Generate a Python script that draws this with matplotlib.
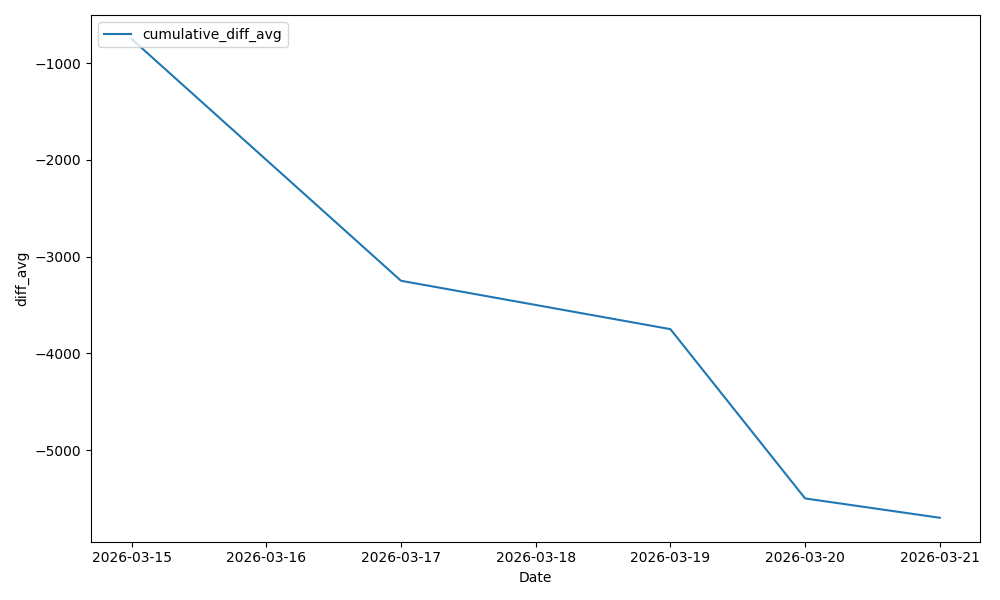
import matplotlib
matplotlib.use('Agg')
import matplotlib.pyplot as plt
import pandas as pd

# Data
dates = ['2026-03-15', '2026-03-17', '2026-03-19', '2026-03-20', '2026-03-21']
cumulative_diff_avg = [-750, -3250, -3750, -5500, -5700]

df = pd.DataFrame({'Date': pd.to_datetime(dates), 'cumulative_diff_avg': cumulative_diff_avg})

plt.figure(figsize=(10, 6))
plt.plot(df['Date'], df['cumulative_diff_avg'], label='cumulative_diff_avg')

plt.xlabel('Date')
plt.ylabel('diff_avg')
plt.legend(loc='upper left')
plt.tight_layout()

plt.savefig('out.png', dpi=100)
